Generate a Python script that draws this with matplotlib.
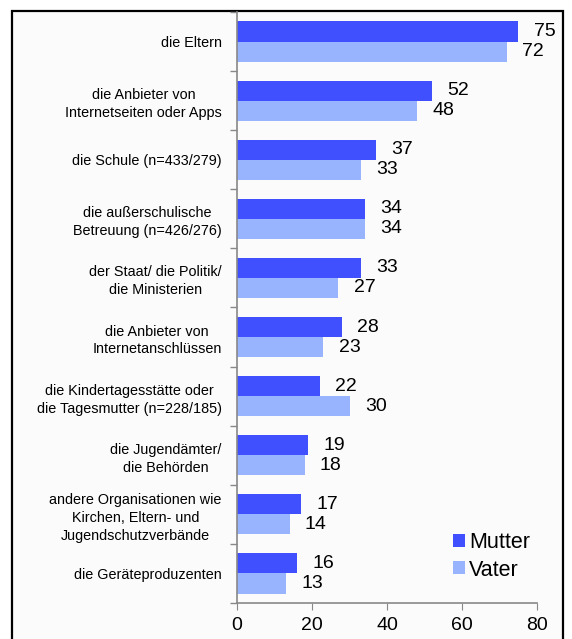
import matplotlib

matplotlib.use("Agg")
import matplotlib.pyplot as plt
import numpy as np
from matplotlib.patches import Rectangle

plt.rcParams["font.family"] = ["Liberation Sans", "DejaVu Sans"]

categories = [
    "die Eltern",
    "die Anbieter von\nInternetseiten oder Apps",
    "die Schule (n=433/279)",
    "die außerschulische\nBetreuung (n=426/276)",
    "der Staat/ die Politik/\ndie Ministerien",
    "die Anbieter von\nInternetanschlüssen",
    "die Kindertagesstätte oder\ndie Tagesmutter (n=228/185)",
    "die Jugendämter/\ndie Behörden",
    "andere Organisationen wie\nKirchen, Eltern- und\nJugendschutzverbände",
    "die Geräteproduzenten",
]
mutter = [75, 52, 37, 34, 33, 28, 22, 19, 17, 16]
vater = [72, 48, 33, 34, 27, 23, 30, 18, 14, 13]
x_ticks = [0, 20, 40, 60, 80]

MUTTER_COLOR = "#4050ff"
VATER_COLOR = "#99b4ff"

fig = plt.figure(figsize=(5.72, 6.39), dpi=100)
fig.patch.set_facecolor("white")

# outer chart frame, runs off the bottom of the image
frame = Rectangle((12 / 572, -0.05), 551 / 572, 1 - 11 / 639 + 0.05,
                  transform=fig.transFigure, facecolor="#fbfbfb",
                  edgecolor="black", linewidth=1.6, zorder=-5)
fig.patches.append(frame)

ax = fig.add_axes([237 / 572, 1 - 603 / 639, 300 / 572, 591 / 639])
ax.set_facecolor("none")
ax.set_zorder(2)

y = np.arange(len(categories))
h = 0.34
ax.barh(y - h / 2, mutter, height=h, color=MUTTER_COLOR, label="Mutter")
ax.barh(y + h / 2, vater, height=h, color=VATER_COLOR, label="Vater")

for i in range(len(categories)):
    ax.annotate(f"{mutter[i]}", (mutter[i], y[i] - h / 2), xytext=(11, 0),
                textcoords="offset points", va="center", ha="left", fontsize=14)
    ax.annotate(f"{vater[i]}", (vater[i], y[i] + h / 2), xytext=(11, 0),
                textcoords="offset points", va="center", ha="left", fontsize=14)

ax.set_xlim(0, 80)
ax.set_ylim(len(categories) - 0.5, -0.5)
ax.set_xticks(x_ticks)
ax.tick_params(axis="x", labelsize=14, length=5, color="#888888", pad=5)

ax.set_yticks(y)
ax.set_yticklabels(categories, fontsize=10.4, linespacing=1.35,
                   multialignment="center")
ax.set_yticks(np.arange(len(categories) + 1) - 0.5, minor=True)
ax.tick_params(axis="y", which="major", length=0, pad=11)
ax.tick_params(axis="y", which="minor", length=5, color="#888888", width=1)

for side in ("top", "right"):
    ax.spines[side].set_visible(False)
for side in ("left", "bottom"):
    ax.spines[side].set_color("#888888")
    ax.spines[side].set_linewidth(1.2)

ax.legend(loc="center left", bbox_to_anchor=(0.655, 0.079), frameon=False,
          fontsize=15.5, handlelength=0.55, handleheight=0.55,
          handletextpad=0.2, labelspacing=0.3)

fig.savefig("out.png", dpi=100)
